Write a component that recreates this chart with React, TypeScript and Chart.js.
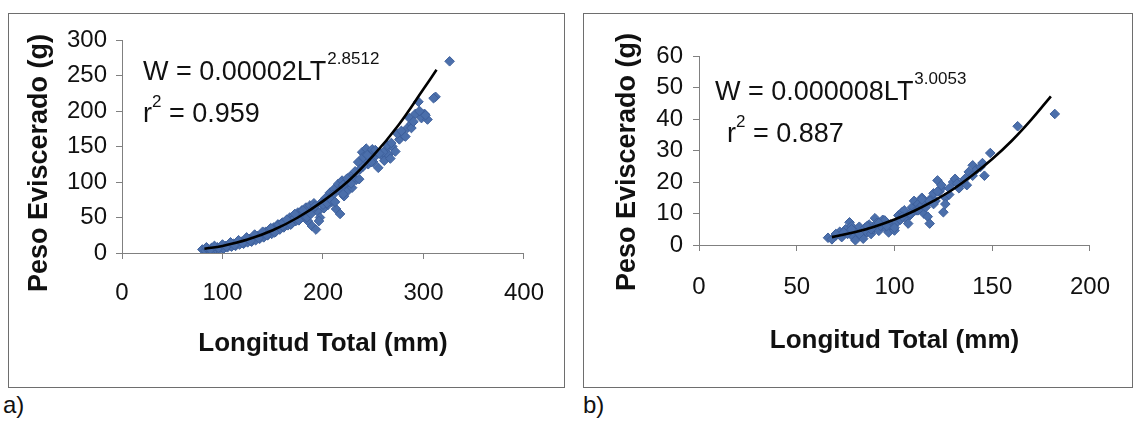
import React, { useEffect, useRef } from "react";
import { Chart, registerables } from "chart.js";
Chart.register(...registerables);

const FONT = 'Arial, "Liberation Sans", Helvetica, sans-serif';

// ---------- Panel a) ----------
const lengthA = [
  80, 83, 85, 87, 89, 91, 93, 95, 97, 99, 101, 103, 105, 107, 109, 111, 113, 115, 117, 119,
  121, 123, 125, 127, 129, 131, 133, 135, 137, 139, 141, 143, 145, 147, 149, 151, 153, 155, 157, 159,
  161, 163, 165, 167, 169, 171, 173, 175, 177, 179, 181, 183, 185, 187, 189, 191, 193, 195, 197, 199,
  201, 203, 205, 207, 209, 211, 213, 215, 217, 219, 221, 223, 225, 227, 229, 231, 233, 235, 237, 239,
  241, 243, 245, 247, 249, 251, 253, 255, 257, 259, 261, 263, 265, 267, 269, 272, 276, 280, 284, 288,
  292, 295, 298, 301, 304, 312, 326,
  150, 160, 170, 180, 190, 200, 210, 220, 230, 240, 250, 260, 282, 288, 302, 310,
  84, 88, 92, 96, 100, 104, 108, 112, 116, 120, 124, 128, 132, 136, 140, 144, 148, 152, 156, 160,
  164, 168, 172, 176, 180, 184, 188, 192, 196, 200, 204, 208, 212, 216, 220, 224, 228, 232, 236, 240,
  244, 248, 252, 256, 264, 268, 274, 278, 286, 290, 296,
];
const weightA = [
  5, 3, 6, 4, 7, 3, 6, 8, 5, 9, 6, 10, 8, 12, 9, 13, 10, 15, 12, 16,
  13, 18, 15, 20, 16, 22, 18, 24, 20, 27, 22, 30, 25, 33, 27, 36, 30, 40, 33, 42,
  36, 45, 39, 50, 42, 53, 45, 57, 48, 60, 52, 64, 45, 67, 38, 70, 33, 58, 50, 72,
  63, 78, 68, 85, 72, 90, 62, 97, 55, 102, 80, 95, 88, 108, 92, 112, 103, 128, 118, 142,
  133, 147, 125, 140, 146, 135, 143, 120, 141, 137, 130, 146, 138, 133, 150, 143, 160, 166, 176, 182,
  196, 213, 190, 196, 188, 220, 270,
  32, 38, 47, 56, 62, 70, 82, 96, 105, 122, 128, 142, 164, 176, 194, 218,
  8, 5, 10, 7, 12, 9, 15, 11, 18, 14, 22, 17, 26, 21, 30, 25, 35, 29, 40, 43,
  47, 40, 55, 46, 60, 50, 55, 66, 45, 68, 70, 75, 72, 88, 83, 105, 98, 115, 104, 135,
  138, 128, 145, 140, 152, 155, 168, 172, 190, 185, 200,
];
const trendXA = [82, 100, 125, 150, 175, 200, 225, 250, 275, 300, 313];
const trendYA = [6, 10, 19, 32, 50, 73, 101, 137, 180, 231, 258];
const xTicksA = [0, 100, 200, 300, 400];
const yTicksA = [0, 50, 100, 150, 200, 250, 300];

// ---------- Panel b) ----------
const lengthB = [
  66, 68, 70, 72, 73, 75, 76, 77, 78, 79, 80, 81, 82, 83, 84, 85, 86, 87, 88, 89,
  90, 91, 92, 93, 94, 95, 96, 97, 98, 99, 100, 101, 102, 103, 104, 105, 106, 107, 108, 109,
  110, 111, 112, 113, 114, 115, 116, 117, 118, 119, 120, 121, 122, 123, 124, 125, 126, 128, 130, 131,
  133, 135, 137, 138, 140, 142, 144, 146, 149, 163, 182,
  70, 74, 78, 82, 86, 88, 92, 96, 100, 104, 108, 112, 114, 116, 118, 120, 122, 124, 126, 128,
  132, 136, 140, 145,
];
const weightB = [
  2.3, 1.8, 3, 4.2, 2.5, 5, 3.5, 7.2, 6, 2.5, 1.5, 4.5, 5.8, 3, 2, 5.5, 4, 6.5, 3.5, 5,
  8.5, 7, 4.5, 6, 8, 7.8, 5, 4, 6.5, 5.5, 4.6, 7, 9.4, 8, 10.5, 11, 8.5, 6.8, 9.5, 12,
  14, 11, 13, 12, 15, 10, 13.5, 9, 6.8, 15, 16.4, 14, 20.5, 17, 18, 10.4, 15, 16, 20, 21,
  18, 20, 19, 23.2, 25.3, 24, 24.8, 22, 29.2, 37.7, 41.6,
  3.5, 4, 5, 3.5, 6, 5, 7, 6, 5.5, 9, 10, 11, 14.5, 12, 14, 13, 17, 19, 13, 18,
  19.5, 21, 22, 26,
];
const trendXB = [68, 80, 90, 100, 110, 120, 130, 140, 150, 160, 170, 180];
const trendYB = [2.5, 4.1, 5.9, 8.1, 10.8, 14.0, 17.7, 22.2, 27.3, 33.1, 39.8, 47.2];
const xTicksB = [0, 50, 100, 150, 200];
const yTicksB = [0, 10, 20, 30, 40, 50, 60];

const X_TITLE = "Longitud Total (mm)";
const Y_TITLE = "Peso Eviscerado (g)";

type Spec = {
  left: number; top: number; w: number; h: number;
  xs: number[]; ys: number[]; tx: number[]; ty: number[];
  xTicks: number[]; yTicks: number[];
  padTop: number; padRight: number; yWidth: number; xHeight: number;
  xTickPad: number; yTickPad: number; xTitlePad: number;
  yTitleX: number; yTitleY: number;
  eqMain: string; eqExp: string; eqX: number; eqY: number;
  r2: string; rX: number; rY: number;
  label: string; labelLeft: number;
};

const specA: Spec = {
  left: 8, top: 13, w: 557, h: 375,
  xs: lengthA, ys: weightA, tx: trendXA, ty: trendYA,
  xTicks: xTicksA, yTicks: yTicksA,
  padTop: 26, padRight: 40, yWidth: 113, xHeight: 134,
  xTickPad: 20, yTickPad: 9, xTitlePad: 28,
  yTitleX: 31, yTitleY: 149,
  eqMain: "W = 0.00002LT", eqExp: "2.8512", eqX: 134, eqY: 66,
  r2: "0.959", rX: 134, rY: 108,
  label: "a)", labelLeft: 3,
};

const specB: Spec = {
  left: 583, top: 13, w: 550, h: 375,
  xs: lengthB, ys: weightB, tx: trendXB, ty: trendYB,
  xTicks: xTicksB, yTicks: yTicksB,
  padTop: 42, padRight: 27, yWidth: 115, xHeight: 142,
  xTickPad: 22, yTickPad: 10, xTitlePad: 31,
  yTitleX: 44, yTitleY: 148,
  eqMain: "W = 0.000008LT", eqExp: "3.0053", eqX: 131, eqY: 86,
  r2: "0.887", rX: 143, rY: 128,
  label: "b)", labelLeft: 583,
};

function Panel({ spec }: { spec: Spec }) {
  const ref = useRef<HTMLCanvasElement>(null);
  useEffect(() => {
    const canvas = ref.current!;
    const s = spec;
    const textPlugin = {
      id: "panelText",
      afterDraw(chart: any) {
        const ctx = chart.ctx as CanvasRenderingContext2D;
        ctx.save();
        ctx.fillStyle = "#111";
        ctx.translate(s.yTitleX, s.yTitleY);
        ctx.rotate(-Math.PI / 2);
        ctx.font = `bold 27px ${FONT}`;
        ctx.textAlign = "center";
        ctx.textBaseline = "middle";
        ctx.fillText(Y_TITLE, 0, 0);
        ctx.restore();

        ctx.save();
        ctx.fillStyle = "#111";
        ctx.textAlign = "left";
        ctx.textBaseline = "alphabetic";
        ctx.font = `27px ${FONT}`;
        ctx.fillText(s.eqMain, s.eqX, s.eqY);
        const w = ctx.measureText(s.eqMain).width;
        ctx.font = `17px ${FONT}`;
        ctx.fillText(s.eqExp, s.eqX + w + 1, s.eqY - 16);

        ctx.font = `27px ${FONT}`;
        ctx.fillText("r", s.rX, s.rY);
        const rw = ctx.measureText("r").width;
        ctx.font = `17px ${FONT}`;
        ctx.fillText("2", s.rX + rw, s.rY - 15);
        const w2 = ctx.measureText("2").width;
        ctx.font = `27px ${FONT}`;
        ctx.fillText(" = " + s.r2, s.rX + rw + w2, s.rY);
        ctx.restore();
      },
    };

    const xMax = s.xTicks[s.xTicks.length - 1];
    const yMax = s.yTicks[s.yTicks.length - 1];
    const chart = new Chart(canvas, {
      type: "scatter",
      data: {
        datasets: [
          {
            data: s.xs.map((x, i) => ({ x, y: s.ys[i] })),
            pointStyle: "rectRot",
            pointRadius: 4.8,
            backgroundColor: "#4b6fab",
            borderColor: "#3e609c",
            borderWidth: 1,
            showLine: false,
            order: 2,
          },
          {
            data: s.tx.map((x, i) => ({ x, y: s.ty[i] })),
            showLine: true,
            borderColor: "#000",
            borderWidth: 2.6,
            pointRadius: 0,
            tension: 0.4,
            fill: false,
            order: 1,
          },
        ],
      } as any,
      options: {
        animation: false,
        responsive: false,
        devicePixelRatio: 1,
        layout: { padding: { left: 0, top: s.padTop, right: s.padRight, bottom: 0 } },
        plugins: { legend: { display: false }, tooltip: { enabled: false } },
        scales: {
          x: {
            type: "linear",
            min: 0,
            max: xMax,
            afterBuildTicks: (sc: any) => { sc.ticks = s.xTicks.map((v) => ({ value: v })); },
            ticks: { autoSkip: false, font: { size: 24, family: FONT }, color: "#111", padding: s.xTickPad, maxRotation: 0 },
            grid: { drawOnChartArea: false, drawTicks: true, tickLength: 6, color: "#808080" },
            border: { color: "#808080", width: 1 },
            title: {
              display: true,
              text: X_TITLE,
              font: { size: 26, weight: "bold", family: FONT },
              color: "#111",
              padding: { top: 0, bottom: s.xTitlePad },
            },
            afterFit: (sc: any) => { sc.height = s.xHeight; },
          },
          y: {
            type: "linear",
            min: 0,
            max: yMax,
            afterBuildTicks: (sc: any) => { sc.ticks = s.yTicks.map((v) => ({ value: v })); },
            ticks: { autoSkip: false, font: { size: 24, family: FONT }, color: "#111", padding: s.yTickPad },
            grid: { drawOnChartArea: false, drawTicks: true, tickLength: 6, color: "#808080" },
            border: { color: "#808080", width: 1 },
            afterFit: (sc: any) => { sc.width = s.yWidth; },
          },
        },
      } as any,
      plugins: [textPlugin],
    });
    return () => chart.destroy();
  }, [spec]);

  const innerW = spec.w - 2;
  const innerH = spec.h - 2;
  return (
    <>
      <div
        style={{
          position: "absolute",
          left: spec.left,
          top: spec.top,
          width: spec.w,
          height: spec.h,
          boxSizing: "border-box",
          border: "1px solid #6e6e6e",
          background: "#fff",
        }}
      >
        <canvas ref={ref} width={innerW} height={innerH} style={{ display: "block", width: innerW, height: innerH }} />
      </div>
      <div
        style={{
          position: "absolute",
          left: spec.labelLeft,
          top: 393,
          fontFamily: FONT,
          fontSize: 24,
          lineHeight: "24px",
          color: "#111",
        }}
      >
        {spec.label}
      </div>
    </>
  );
}

export default function App() {
  return (
    <div style={{ position: "absolute", left: 0, top: 0, width: 1135, height: 424, background: "#fff" }}>
      <Panel spec={specA} />
      <Panel spec={specB} />
    </div>
  );
}
